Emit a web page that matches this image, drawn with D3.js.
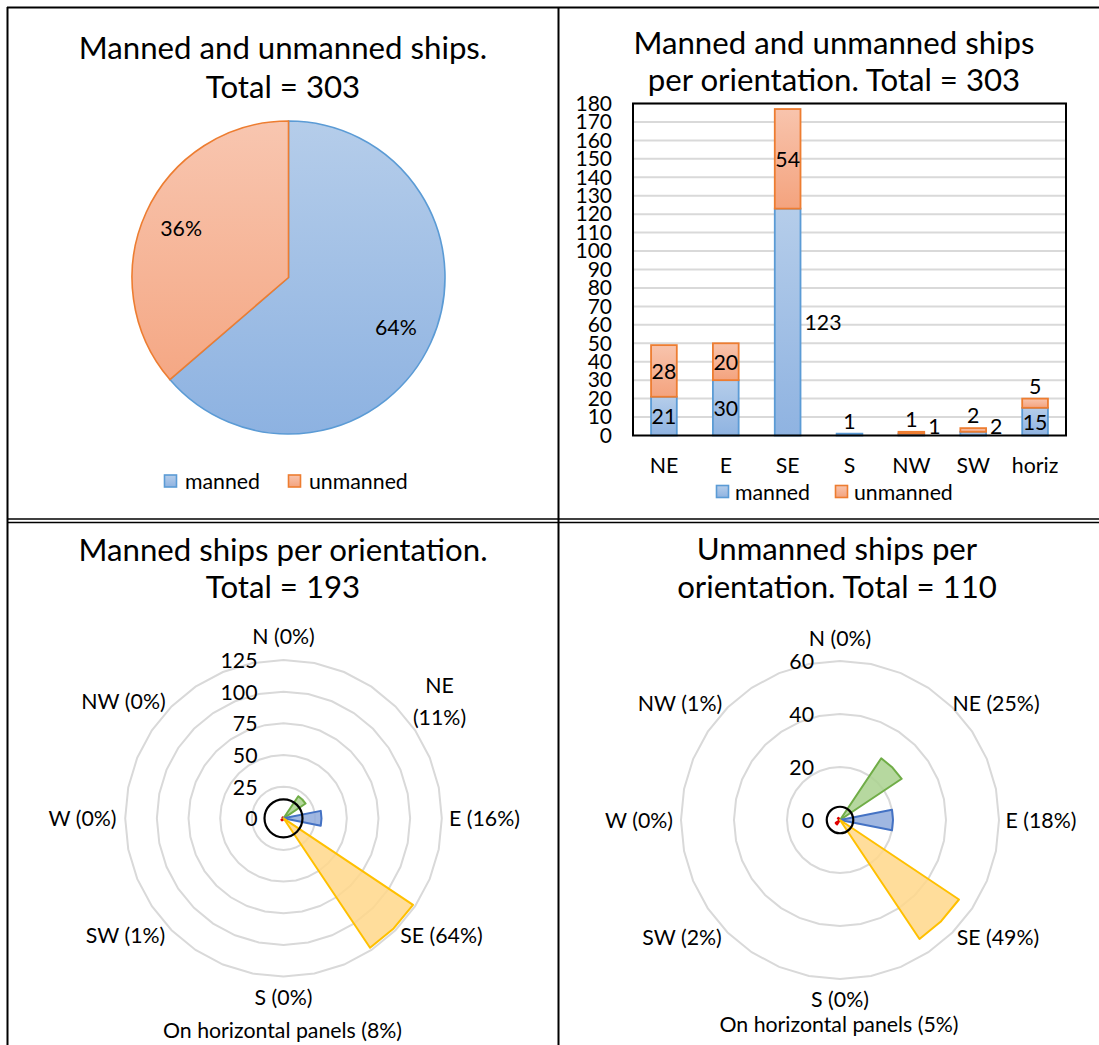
<!DOCTYPE html>
<html>
<head>
<meta charset="utf-8">
<script src="https://cdn.jsdelivr.net/npm/d3@7"></script>
<style>
  html, body { margin: 0; padding: 0; background: #fff; }
  svg { display: block; }
  text { font-family: Lato, "Open Sans", sans-serif; fill: #000; }
</style>
</head>
<body>
<svg id="chart" width="1099" height="1045"></svg>
<script>
// ---- data ----
const categories = ["NE", "E", "SE", "S", "NW", "SW", "horiz"];
const mannedCounts = [21, 30, 123, 1, 1, 2, 15];
const unmannedCounts = [28, 20, 54, 0, 1, 2, 5];
const seriesNames = ["manned", "unmanned"];

const compass = ["N", "NE", "E", "SE", "S", "SW", "W", "NW"];
const compassAngles = [0, 45, 90, 135, 180, 225, 270, 315];
const mannedByDir = [0, 21, 30, 123, 1, 2, 0, 1];
const unmannedByDir = [0, 28, 20, 54, 0, 2, 0, 1];
const mannedPct = ["0%", "11%", "16%", "64%", "0%", "1%", "0%", "0%"];
const unmannedPct = ["0%", "25%", "18%", "49%", "0%", "2%", "0%", "1%"];
const mannedHoriz = 15, mannedHorizPct = "8%";
const unmannedHoriz = 5, unmannedHorizPct = "5%";

const barTicks = d3.range(0, 181, 10);
const mannedRingTicks = [0, 25, 50, 75, 100, 125];
const unmannedRingTicks = [0, 20, 40, 60];

// ---- styling ----
const BLUE_LINE = "#5b9bd5", ORANGE_LINE = "#ed7d31";
const GRID = "#d9d9d9";
const FONT = "Lato, 'Open Sans', sans-serif";
const FS = 21.3;        // small text
const FS_TICK = 21;     // bar axis ticks
const FS_TITLE = 31.2;  // panel titles

const svg = d3.select("#chart");
svg.append("rect").attr("width", 1099).attr("height", 1045).attr("fill", "#fff");

const defs = svg.append("defs");
function grad(id, top, bottom) {
  const g = defs.append("linearGradient").attr("id", id)
    .attr("x1", 0).attr("y1", 0).attr("x2", 0).attr("y2", 1);
  g.append("stop").attr("offset", "0%").attr("stop-color", top);
  g.append("stop").attr("offset", "100%").attr("stop-color", bottom);
}
grad("gBlue", "#b5cdea", "#8fb3e1");
grad("gOrange", "#f8c4ad", "#f4a37e");
const fills = ["url(#gBlue)", "url(#gOrange)"];
const lines = [BLUE_LINE, ORANGE_LINE];

// ---- panel frames ----
const frame = svg.append("g").attr("stroke", "#000").attr("fill", "none");
frame.append("line").attr("x1", 7).attr("x2", 1099).attr("y1", 7.5).attr("y2", 7.5).attr("stroke-width", 2);
frame.append("line").attr("x1", 7.5).attr("x2", 7.5).attr("y1", 7).attr("y2", 1045).attr("stroke-width", 2);
frame.append("line").attr("x1", 558.5).attr("x2", 558.5).attr("y1", 7).attr("y2", 1045).attr("stroke-width", 2);
frame.append("line").attr("x1", 7).attr("x2", 1099).attr("y1", 519).attr("y2", 519).attr("stroke-width", 1.6);
frame.append("line").attr("x1", 7).attr("x2", 1099).attr("y1", 522.5).attr("y2", 522.5).attr("stroke-width", 1.6);

function title(x, ys, lines) {
  lines.forEach((t, i) => svg.append("text")
    .attr("x", x).attr("y", ys[i]).attr("text-anchor", "middle")
    .attr("dominant-baseline", "central").attr("font-size", FS_TITLE).text(t));
}

function legend(y, xs, gap) {
  seriesNames.forEach((name, i) => {
    svg.append("rect").attr("x", xs[i] + 0.5).attr("y", y - 6).attr("width", 12).attr("height", 12)
      .attr("fill", fills[i]).attr("stroke", lines[i]).attr("stroke-width", 1.6);
    svg.append("text").attr("x", xs[i] + gap).attr("y", y).attr("dominant-baseline", "central")
      .attr("font-size", FS).text(name);
  });
}

// ---- panel 1: pie ----
(function pie() {
  const cx = 288.5, cy = 277.5, R = 156.5;
  title(283, [47, 86], ["Manned and unmanned ships.", "Total = " + (d3.sum(mannedCounts) + d3.sum(unmannedCounts))]);
  const totals = [d3.sum(mannedCounts), d3.sum(unmannedCounts)];
  const all = d3.sum(totals);
  const arcs = d3.pie().sort(null).value(d => d)(totals);
  const g = svg.append("g").attr("transform", `translate(${cx},${cy})`);
  const arc = d3.arc().innerRadius(0).outerRadius(R);
  const labelArc = d3.arc().innerRadius(R * 0.755).outerRadius(R * 0.755);
  // gradient spans the whole pie vertically
  ["pieBlue", "pieOrange"].forEach((id, i) => {
    const cols = i === 0 ? ["#b5cdea", "#8db2e1"] : ["#f8c6b0", "#f4a17b"];
    const gg = defs.append("linearGradient").attr("id", id).attr("gradientUnits", "userSpaceOnUse")
      .attr("x1", 0).attr("y1", -R).attr("x2", 0).attr("y2", R);
    gg.append("stop").attr("offset", "0%").attr("stop-color", cols[0]);
    gg.append("stop").attr("offset", "100%").attr("stop-color", cols[1]);
  });
  g.selectAll("path.slice").data(arcs).join("path")
    .attr("d", arc)
    .attr("fill", (d, i) => i === 0 ? "url(#pieBlue)" : "url(#pieOrange)")
    .attr("stroke", (d, i) => lines[i]).attr("stroke-width", 1.6);
  g.selectAll("text.pct").data(arcs).join("text")
    .attr("transform", d => `translate(${labelArc.centroid(d)})`)
    .attr("text-anchor", "middle").attr("dominant-baseline", "central")
    .attr("font-size", FS)
    .text(d => Math.round(d.data / all * 100) + "%");
  legend(481, [164, 288], 21);
})();

// ---- panel 2: stacked bars ----
(function bars() {
  title(834, [42, 79], ["Manned and unmanned ships", "per orientation. Total = " + (d3.sum(mannedCounts) + d3.sum(unmannedCounts))]);
  const left = 633, right = 1066, top = 103.5, bottom = 435.5;
  const x = d3.scaleBand().domain(categories).range([left, right]).paddingInner(0.584).paddingOuter(0.292);
  const y = d3.scaleLinear().domain([0, 180]).range([bottom, top]);
  const g = svg.append("g");

  g.selectAll("line.grid").data(barTicks.filter(t => t > 0)).join("line")
    .attr("x1", left).attr("x2", right)
    .attr("y1", d => y(d)).attr("y2", d => y(d))
    .attr("stroke", GRID).attr("stroke-width", 2);

  const yAxis = g.append("g").attr("transform", `translate(${left},0)`)
    .call(d3.axisLeft(y).tickValues(barTicks).tickSize(0).tickPadding(21));
  yAxis.select(".domain").remove();
  yAxis.selectAll("text").attr("font-size", FS_TICK).attr("font-family", FONT);

  const xAxis = g.append("g").attr("transform", `translate(0,${bottom})`)
    .call(d3.axisBottom(x).tickSize(0).tickPadding(22));
  xAxis.select(".domain").remove();
  xAxis.selectAll("text").attr("font-size", FS).attr("font-family", FONT);

  const rows = categories.map((c, i) => ({ cat: c, manned: mannedCounts[i], unmanned: unmannedCounts[i] }));
  const stacked = d3.stack().keys(seriesNames)(rows);

  stacked.forEach((layer, si) => {
    g.selectAll("rect.s" + si).data(layer).join("rect")
      .attr("x", d => x(d.data.cat))
      .attr("width", x.bandwidth())
      .attr("y", d => y(d[1]))
      .attr("height", d => y(d[0]) - y(d[1]))
      .attr("fill", fills[si]).attr("stroke", lines[si]).attr("stroke-width", 1.8)
      .attr("display", d => d[1] - d[0] > 0 ? null : "none");
  });

  // frame of the plot area
  g.append("rect").attr("x", left).attr("y", top).attr("width", right - left).attr("height", bottom - top)
    .attr("fill", "none").attr("stroke", "#000").attr("stroke-width", 2);

  // data labels: inside when the segment is tall enough, otherwise above the stack or beside it
  const beside = { "SE|manned": true, "NW|manned": true, "SW|manned": true };
  stacked.forEach((layer, si) => {
    layer.forEach(d => {
      const v = d[1] - d[0];
      if (v <= 0) return;
      const key = d.data.cat + "|" + seriesNames[si];
      const cx = x(d.data.cat) + x.bandwidth() / 2;
      const mid = (y(d[0]) + y(d[1])) / 2;
      let tx = cx, ty = mid, anchor = "middle";
      if (beside[key]) {
        tx = x(d.data.cat) + x.bandwidth() + 4; anchor = "start";
        ty = Math.min(mid, bottom - 10);
      } else if (y(d[0]) - y(d[1]) < 20) {
        ty = y(d[1]) - 13;
      }
      g.append("text").attr("x", tx).attr("y", ty).attr("text-anchor", anchor)
        .attr("dominant-baseline", "central").attr("font-size", FS).text(v);
    });
  });
  legend(491.5, [716, 835], 19);
})();

// ---- panels 3 & 4: radar-style wedges ----
const wedgeStyle = {
  NE: { stroke: "#70ad47", fill: "#a9d18e" },
  E:  { stroke: "#4472c4", fill: "#8faadc" },
  SE: { stroke: "#ffc000", fill: "#ffd78a" }
};
const otherStyle = { stroke: "#e00000", fill: "#f08080" };
const HALF = 11.25; // half-width of a wedge in degrees

// where each compass label sits relative to the centre
const labelOffset = {
  N: [0, -182], NE: [156, -117], E: [201, 0], SE: [158, 117],
  S: [0, 179], SW: [-158, 117], W: [-201, 0], NW: [-160, -117]
};

function polar(opts) {
  const { cx, cy, Rmax, maxV, ticks, values, pct, horiz, horizPct, horizY, wrap } = opts;
  const r = d3.scaleLinear().domain([0, maxV]).range([0, Rmax]);
  const g = svg.append("g").attr("transform", `translate(${cx},${cy})`);
  const ring = d3.lineRadial().curve(d3.curveLinearClosed);
  const N = 32;

  g.selectAll("path.ring").data(ticks.filter(t => t > 0)).join("path")
    .attr("d", t => ring(d3.range(N).map(k => [k * 2 * Math.PI / N, r(t)])))
    .attr("fill", "none").attr("stroke", GRID).attr("stroke-width", 2);

  g.selectAll("text.tick").data(ticks).join("text")
    .attr("x", -26).attr("y", t => -r(t))
    .attr("text-anchor", "end").attr("dominant-baseline", "central")
    .attr("font-size", FS).text(t => t);

  const wedge = d3.lineRadial().curve(d3.curveLinearClosed);
  const rad = a => a * Math.PI / 180;
  const order = compass.map((c, i) => i).filter(i => values[i] > 0)
    .sort((a, b) => (wedgeStyle[compass[a]] ? 1 : 0) - (wedgeStyle[compass[b]] ? 1 : 0));
  order.forEach(i => {
    const a = compassAngles[i], v = values[i];
    const st = wedgeStyle[compass[i]] || otherStyle;
    g.append("path")
      .attr("d", wedge([[0, 0], [rad(a - HALF), r(v)], [rad(a), r(v)], [rad(a + HALF), r(v)]]))
      .attr("fill", st.fill).attr("fill-opacity", 0.85)
      .attr("stroke", st.stroke).attr("stroke-width", 2).attr("stroke-linejoin", "round");
  });

  // horizontal panels drawn as a full circle
  g.append("circle").attr("r", r(horiz)).attr("fill", "none")
    .attr("stroke", "#000").attr("stroke-width", 2.2);

  compass.forEach((c, i) => {
    const [dx, dy] = labelOffset[c];
    const t = g.append("text").attr("x", dx).attr("y", dy)
      .attr("text-anchor", "middle").attr("dominant-baseline", "central").attr("font-size", FS);
    if (wrap.includes(c)) {
      t.append("tspan").attr("x", dx).attr("dy", "-0.75em").text(c);
      t.append("tspan").attr("x", dx).attr("dy", "1.5em").text(`(${pct[i]})`);
    } else {
      t.text(`${c} (${pct[i]})`);
    }
  });
  g.append("text").attr("x", -1).attr("y", horizY)
    .attr("text-anchor", "middle").attr("dominant-baseline", "central").attr("font-size", FS)
    .text(`On horizontal panels (${horizPct})`);
}

title(283, [549, 586], ["Manned ships per orientation.", "Total = " + d3.sum(mannedCounts)]);
polar({
  cx: 283.5, cy: 818.3, Rmax: 158.3, maxV: 125, ticks: mannedRingTicks,
  values: mannedByDir, pct: mannedPct, horiz: mannedHoriz, horizPct: mannedHorizPct,
  horizY: 212, wrap: ["NE"]
});

title(837, [548, 586], ["Unmanned ships per", "orientation. Total = " + d3.sum(unmannedCounts)]);
polar({
  cx: 840, cy: 820, Rmax: 159, maxV: 60, ticks: unmannedRingTicks,
  values: unmannedByDir, pct: unmannedPct, horiz: unmannedHoriz, horizPct: unmannedHorizPct,
  horizY: 204, wrap: []
});
</script>
</body>
</html>
